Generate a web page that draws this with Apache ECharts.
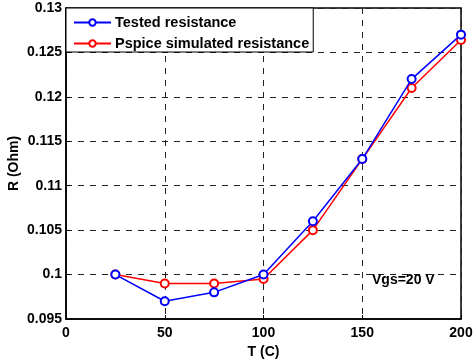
<!DOCTYPE html>
<html>
<head>
<meta charset="utf-8">
<script src="https://cdn.jsdelivr.net/npm/echarts@6/dist/echarts.min.js"></script>
<style>
  html, body { margin: 0; padding: 0; background: #fff; }
  #chart { width: 473px; height: 364px; }
</style>
</head>
<body>
<div id="chart"></div>
<script>
// Temperature points (C)
const temperatures = [25, 50, 75, 100, 125, 150, 175, 200];
// Measured on-resistance (Ohm)
const testedResistance = [0.1, 0.097, 0.098, 0.1, 0.106, 0.113, 0.122, 0.127];
// Pspice model resistance (Ohm)
const pspiceResistance = [0.1, 0.099, 0.099, 0.0995, 0.105, 0.113, 0.121, 0.1264];

const seriesNames = ['Tested resistance', 'Pspice simulated resistance'];
const seriesColors = ['#0000ff', '#ff0000'];

const FONT = '"Liberation Sans", Arial, Helvetica, sans-serif';

const chart = echarts.init(document.getElementById('chart'));

function pairs(ys) {
  return temperatures.map((t, i) => [t, ys[i]]);
}

const dashed = { show: true, lineStyle: { color: '#222', type: [6, 6], width: 1 } };

chart.setOption({
  animation: false,
  backgroundColor: '#fff',
  textStyle: { fontFamily: FONT },
  grid: {
    left: 66, right: 12, top: 8, bottom: 45,
    outerBoundsMode: 'none', containLabel: false,
    show: true, borderColor: '#000', borderWidth: 1.5, backgroundColor: 'transparent'
  },
  legend: {
    left: 66, top: 8,
    orient: 'vertical',
    data: seriesNames,
    backgroundColor: '#fff',
    borderColor: '#000',
    borderWidth: 1,
    borderRadius: 0,
    padding: [6, 4, 0, 7],
    itemGap: 4,
    itemWidth: 37,
    itemHeight: 8,
    textStyle: {
      fontFamily: FONT, fontWeight: 'bold', fontSize: 14.5, lineHeight: 17,
      color: '#000', padding: [0, 0, 0, -1]
    }
  },
  xAxis: {
    type: 'value', min: 0, max: 200, interval: 50,
    name: 'T (C)', nameLocation: 'middle', nameGap: 26, nameMoveOverlap: false,
    nameTextStyle: { fontFamily: FONT, fontWeight: 'bold', fontSize: 14, color: '#000' },
    axisLine: { show: true, onZero: false, lineStyle: { color: '#000', width: 1.5 } },
    axisTick: { show: true, inside: true, length: 4, lineStyle: { color: '#000' } },
    axisLabel: { fontFamily: FONT, fontWeight: 'bold', fontSize: 14, color: '#000', margin: 7 },
    splitLine: dashed
  },
  yAxis: {
    type: 'value', min: 0.095, max: 0.13, interval: 0.005,
    name: 'R (Ohm)', nameLocation: 'middle', nameGap: 45, nameRotate: 90, nameMoveOverlap: false,
    nameTextStyle: { fontFamily: FONT, fontWeight: 'bold', fontSize: 14, color: '#000' },
    axisLine: { show: true, onZero: false, lineStyle: { color: '#000', width: 1.5 } },
    axisTick: { show: true, inside: true, length: 4, lineStyle: { color: '#000' } },
    axisLabel: {
      fontFamily: FONT, fontWeight: 'bold', fontSize: 14, color: '#000', margin: 4,
      formatter: v => String(parseFloat(v.toFixed(4)))
    },
    splitLine: dashed
  },
  graphic: [{
    type: 'text', left: 372, top: 273, z: 10,
    style: { text: 'Vgs=20 V', fill: '#000', font: 'bold 14px ' + FONT }
  }],
  series: [
    {
      name: seriesNames[0], type: 'line', data: pairs(testedResistance),
      symbol: 'emptyCircle', symbolSize: 8, z: 3,
      lineStyle: { color: seriesColors[0], width: 1.5 },
      itemStyle: { color: seriesColors[0], borderWidth: 1.5 }
    },
    {
      name: seriesNames[1], type: 'line', data: pairs(pspiceResistance),
      symbol: 'emptyCircle', symbolSize: 8, z: 2,
      lineStyle: { color: seriesColors[1], width: 1.5 },
      itemStyle: { color: seriesColors[1], borderWidth: 1.5 }
    }
  ]
});
</script>
</body>
</html>
